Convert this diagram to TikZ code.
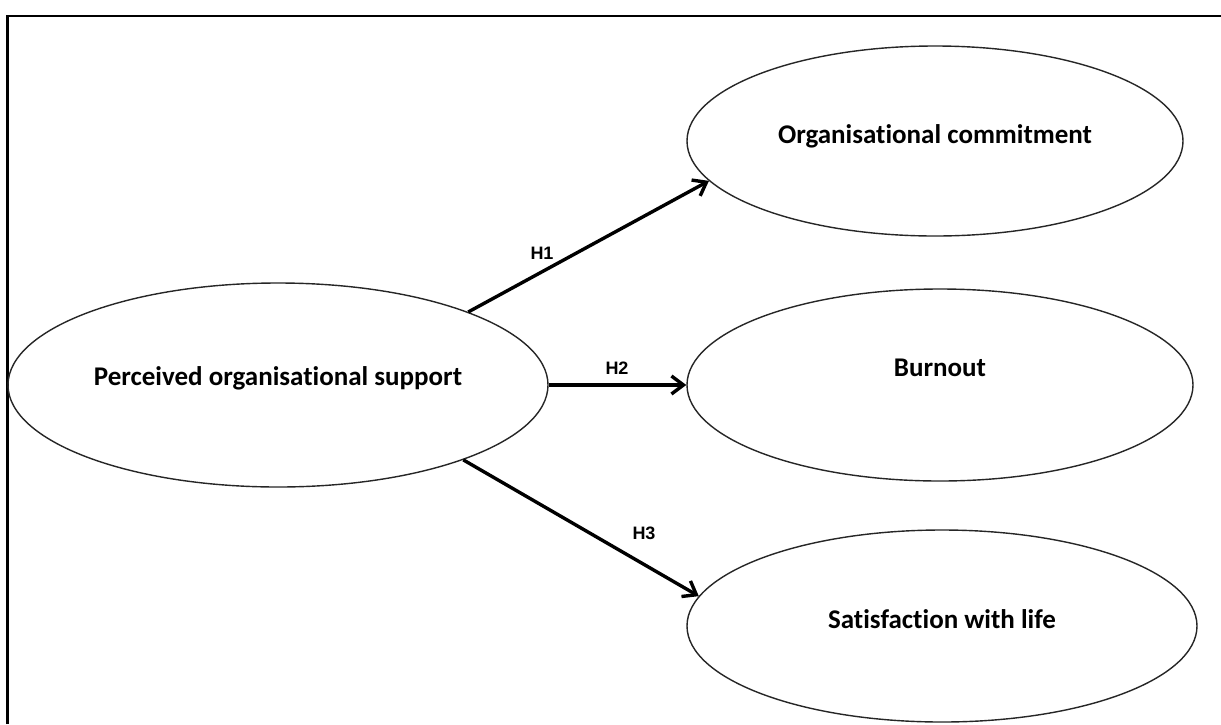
\documentclass[tikz,border=0pt]{standalone}
\usepackage{fontspec}
\setmainfont{Carlito}[Ligatures=CommonOff]
\newfontfamily\hfont{Liberation Sans}
\usetikzlibrary{shapes.geometric,arrows.meta}
\begin{document}
\begin{tikzpicture}[x=1pt,y=-1pt,
  construct/.style={ellipse, draw=black!85, line width=1.4pt, inner sep=0pt,
    font=\fontsize{27}{32}\selectfont\bfseries, text height=19pt},
  hyparrow/.style={line width=3.4pt, -{Straight Barb[length=12pt,width=18pt]}},
  hlabel/.style={font=\hfont\bfseries\fontsize{18}{21}\selectfont, inner sep=0pt}
]
\useasboundingbox (0,0) rectangle (1221,724);
\fill[white] (0,0) rectangle (1221,724);
\coordinate (fbl) at (7.5,724);
\coordinate (ftl) at (7.5,16);
\coordinate (ftr) at (1221,16);
\draw[line width=2.5pt] (fbl) -- (ftl) -- (ftr);

\node[construct, text depth=18pt, minimum width=540pt, minimum height=204pt] (pos) at (278,385) {Perceived organisational support};
\node[construct, text depth=15pt, minimum width=496pt, minimum height=190pt] (oc) at (935,141) {Organisational commitment};
\node[construct, text depth=36pt, minimum width=506pt, minimum height=192pt] (bo) at (940,385) {Burnout};
\node[construct, text depth=15pt, minimum width=510pt, minimum height=192pt] (sl) at (942,626) {Satisfaction with life};

\draw[hyparrow] (pos.21) -- (oc.190);
\draw[hyparrow] (pos.east) -- (bo.west);
\draw[hyparrow] (pos.-22) -- (sl.173);

\node[hlabel] (h1) at (542,253) {H1};
\node[hlabel] (h2) at (617,368) {H2};
\node[hlabel] (h3) at (644,533) {H3};
\end{tikzpicture}
\end{document}
